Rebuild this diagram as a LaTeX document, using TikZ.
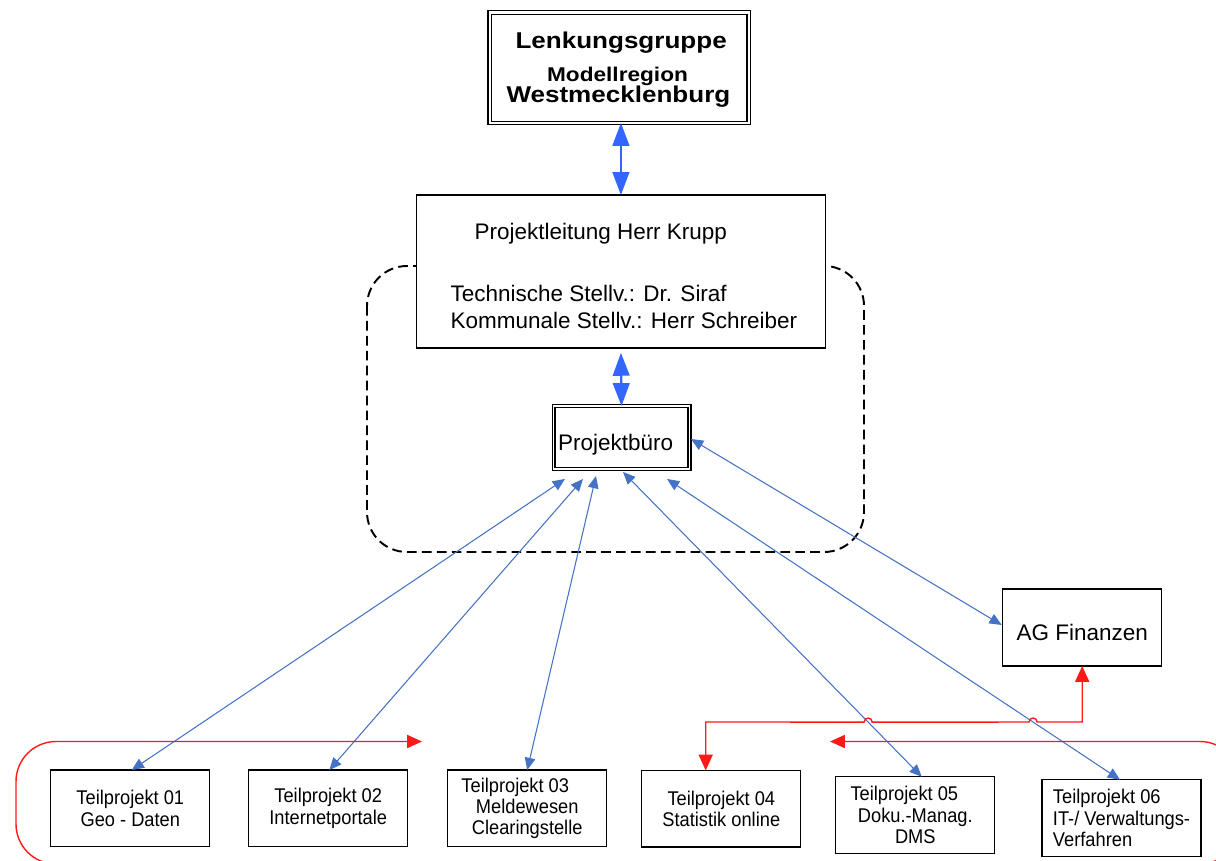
\documentclass[tikz,border=0pt]{standalone}
\usepackage{fontspec}
\setmainfont{Liberation Sans}
\newfontfamily\tpfont[FakeStretch=0.92]{Liberation Sans}
\newfontfamily\lgfont[FakeStretch=1.14]{Liberation Sans}
\usetikzlibrary{arrows.meta,calc}
\definecolor{bigblue}{RGB}{51,102,255}
\definecolor{linkblue}{RGB}{68,114,196}
\definecolor{redarrow}{RGB}{255,25,25}
\tikzset{
	box/.style={draw,line width=0.7pt,fill=white,outer sep=0pt,inner sep=0pt},
	dbox/.style={box,double,double distance=1.2pt},
	tpbox/.style={box,minimum width=3.18cm,minimum height=1.53cm,align=center,
		font={\tpfont\fontsize{11.3}{12.2}\selectfont}},
	plfont/.style={font={\fontsize{12.8}{15}\selectfont}},
	bigarrow/.style={draw=bigblue,line width=1.2pt,
		{Triangle[length=13pt,width=9.5pt]}-{Triangle[length=13pt,width=9.5pt]}},
	link/.style={draw=linkblue,line width=0.6pt,
		{Triangle[length=7pt,width=6pt]}-{Triangle[length=7pt,width=6pt]}},
	redline/.style={draw=redarrow,line width=0.8pt},
	redtip/.tip={Triangle[length=9pt,width=8pt]},
	looptip/.tip={Triangle[length=8.5pt,width=7.5pt]}
}
\begin{document}
\begin{tikzpicture}[x=0.02cm,y=-0.02cm]
	\useasboundingbox (0,0) rectangle (1216,861);
	\clip (0,0) rectangle (1216,861);
	%Rahmen Projektleitung/Projektbuero
	\draw [dashed,line width=1.1pt,dash pattern=on 5.5pt off 3pt,rounded corners=0.8cm]
	(367,266) rectangle (864,552);
	%Lenkungsgruppe
	\node[dbox,minimum width=5.18cm,minimum height=2.21cm] (lg) at (619.1,67.7) {};
	\node[anchor=base,inner sep=0pt,font={\lgfont\bfseries\fontsize{13}{15}\selectfont}]
	(lg1) at ($(lg.north)+(2,35.7)$) {Lenkungsgruppe};
	\node[anchor=base,inner sep=0pt,font={\lgfont\bfseries\fontsize{11.3}{13}\selectfont}]
	(lg2) at ($(lg.north)+(-1.6,68.7)$) {Modellregion};
	\node[anchor=base,inner sep=0pt,font={\lgfont\bfseries\fontsize{13}{15}\selectfont}]
	(lg3) at ($(lg.north)+(-0.7,89.7)$) {Westmecklenburg};
	%Projektleitung
	\node[box,minimum width=8.19cm,minimum height=3.06cm] (pl) at (620.9,271.5) {};
	\node[plfont,anchor=base west,inner sep=0pt] (pl1) at ($(pl.north west)+(58,44)$)
	{Projektleitung Herr Krupp};
	\node[plfont,anchor=base west,inner sep=0pt] (pl2) at ($(pl.north west)+(34,106.7)$)
	{Technische Stellv.: Dr. Siraf};
	\node[plfont,anchor=base west,inner sep=0pt] (pl3) at ($(pl.north west)+(34,133)$)
	{Kommunale Stellv.: Herr Schreiber};
	%Projektbuero und AG
	\node[dbox,plfont,line width=0.6pt,double distance=1.1pt,minimum width=2.72cm,
	minimum height=1.27cm,text height=14pt,text depth=0pt] (pb) at (621.5,437.7)
	{Projektbüro\hspace*{6.8pt}};
	\node[box,plfont,minimum width=3.18cm,minimum height=1.54cm,text height=15.3pt,
	text depth=0pt] (ag) at (1082.2,627.5) {AG Finanzen};
	%Teilprojekte
	\node[tpbox] (tp01) at (130.3,808.3) {Teilprojekt 01\\Geo - Daten};
	\node[tpbox] (tp02) at (328.2,808.3) {Teilprojekt 02\\Internetportale};
	\node[tpbox] (tp03) at (527.2,808.3)
	{Teilprojekt 03\hspace*{13.6pt}\\Meldewesen\\Clearingstelle};
	\node[tpbox] (tp04) at (721.3,808.7) {Teilprojekt 04\\Statistik online};
	\node[tpbox] (tp05) at (915.3,815) {Teilprojekt 05\hspace*{12.5pt}\\Doku.-Manag.\\DMS};
	\node[tpbox,align=left] (tp06) at (1121.5,818)
	{Teilprojekt 06\\IT-/ Verwaltungs-\\Verfahren};
	%blaue Pfeile
	\draw [bigarrow] (pl.north |- lg.south) -- (pl.north);
	\draw [bigarrow,shorten <=2.8pt] (pl.south) -- (pb.north);
	\coordinate (b4s) at ($(pb.south)+(1.5,2.5)$);
	\coordinate (b4e) at ($(tp05.north)+(6.4,0)$);
	\coordinate (b5s) at ($(pb.south)+(45.5,9.5)$);
	\coordinate (b5e) at ($(tp06.north)+(-1.5,0)$);
	\draw [link] ($(pb.south)+(-56.5,9.5)$) -- ($(tp01.north)+(1.4,0)$);
	\draw [link] ($(pb.south)+(-38.5,9.5)$) -- ($(tp02.north)+(1.1,0)$);
	\draw [link] ($(pb.south)+(-25.5,6.5)$) -- (tp03.north);
	\draw [link] (b4s) -- (b4e);
	\draw [link] (b5s) -- (b5e);
	\draw [link] ($(pb.east)+(1.5,1.3)$) -- ($(ag.west)+(-1,-2.5)$);
	%rote Linien
	\coordinate (rs) at ($(tp04.north)+(-15.6,0)$);
	\coordinate (rlvl) at (0,722);
	\coordinate (rk1) at (rs |- rlvl);
	\coordinate (rk2) at (ag.south |- rlvl);
	\coordinate (j1) at (intersection of rk1--rk2 and b4s--b4e);
	\coordinate (j2) at (intersection of rk1--rk2 and b5s--b5e);
	\draw [redline,redtip-redtip] (rs) -- (rk1)
	-- ($(j1)+(-4,0)$) .. controls +(0,-5.3) and +(0,-5.3) .. ($(j1)+(4,0)$)
	-- ($(j2)+(-4,0)$) .. controls +(0,-5.3) and +(0,-5.3) .. ($(j2)+(4,0)$)
	-- (rk2) -- (ag.south);
	\coordinate (loopL) at (422,741.5);
	\coordinate (loopR) at (830,741.5);
	\draw [redline,rounded corners=0.8cm,-looptip]
	(620,864) -- (16,864) -- (16,741.5) -- (loopL);
	\draw [redline,rounded corners=0.8cm,-looptip]
	(620,864) -- (1240,864) -- (1240,741.5) -- (loopR);
\end{tikzpicture}
\end{document}
